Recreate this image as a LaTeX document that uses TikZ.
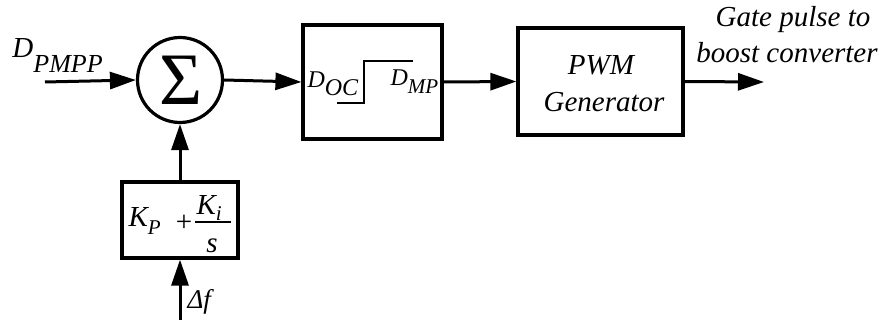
\documentclass[tikz,border=0pt]{standalone}
\usepackage{fontspec}
\setmainfont{Liberation Serif}[ItalicFont={Liberation Serif Italic}]
\usetikzlibrary{arrows.meta}
\begin{document}
\begin{tikzpicture}[x=1pt,y=-1pt,
  line width=3pt,
  blk/.style={draw, line width=3.2pt, inner sep=0pt},
  arr/.style={-{Triangle[length=26pt,width=17pt]}},
  lbl/.style={inner sep=0pt, font=\itshape\fontsize{29}{31}\selectfont},
  sublbl/.style={inner sep=0pt, font=\itshape\fontsize{24}{26}\selectfont}]
\useasboundingbox (0,0) rectangle (891,320);
% blocks
\node[blk, circle, minimum size=85pt] (sum) at (180,80) {};
\node[inner sep=0pt, font=\fontsize{74}{74}\selectfont] (sig) at (181,80) {Σ};
\node[blk, minimum width=139pt, minimum height=114pt] (lim) at (372.5,82) {};
\node[blk, minimum width=165pt, minimum height=107pt] (pwm) at (600.5,81.5) {};
\node[blk, minimum width=116pt, minimum height=76pt] (pi) at (180,220) {};
% texts
\node[lbl, anchor=base west] (dpmpp) at (11,58) {D\raisebox{-15pt}{\fontsize{26}{26}\selectfont PMPP}};
\node[sublbl, anchor=base west] (doc) at (306,88) {D\raisebox{-8pt}{OC}};
\node[sublbl, anchor=base west] (dmp) at (389,86) {D\raisebox{-8pt}{\fontsize{21}{21}\selectfont MP}};
\node[lbl, anchor=base] (pwmt1) at (601,75) {PWM};
\node[lbl, anchor=base] (pwmt2) at (604,112) {Generator};
\node[lbl, anchor=base] (gate1) at (793,27) {Gate pulse to};
\node[lbl, anchor=base] (gate2) at (787,63) {boost converter};
\node[lbl, anchor=base west] (kp) at (127,227) {K\raisebox{-8pt}{\fontsize{21}{21}\selectfont P}};
\node[inner sep=0pt, font=\fontsize{29}{31}\selectfont] (plus) at (184,223) {+};
\node[lbl, anchor=base west] (ki) at (195,215) {K\raisebox{-6pt}{\fontsize{21}{21}\selectfont i}};
\node[lbl, anchor=base] (kis) at (212,253) {s};
\node[lbl, anchor=base west, font=\itshape\fontsize{27}{29}\selectfont] (df) at (186,308) {Δf};
% step characteristic and fraction bar
\draw[line width=2.8pt] (337,103) -- (364,103) -- (364,61) -- (413,61);
\draw[line width=1.4pt] (195,222) -- (231,222);
% connectors
\coordinate (inL) at (45,82);
\coordinate (outR) at (764,82);
\coordinate (inB) at (180,320);
\draw[arr] (inL) -- (sum.west);
\draw[arr] (sum.east) -- (lim.west);
\draw[arr] (lim.east) -- (pwm.west);
\draw[arr] (pwm.east) -- (outR);
\draw[arr] (pi.north) -- (sum.south);
\draw[arr] (inB) -- (pi.south);
\end{tikzpicture}
\end{document}
